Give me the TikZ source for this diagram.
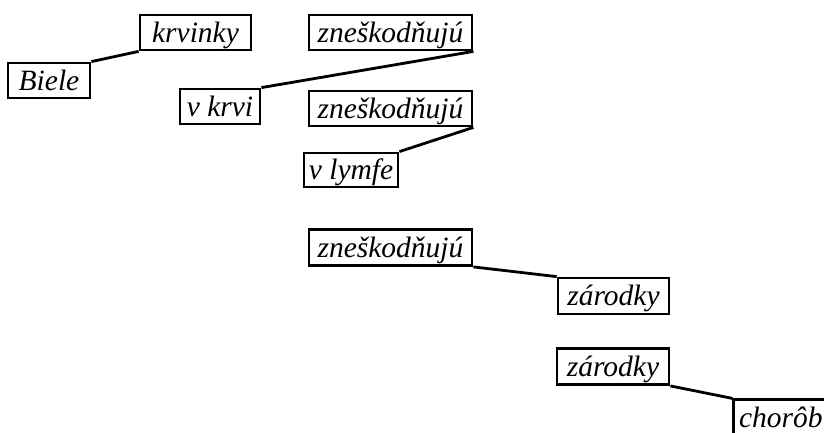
\documentclass[tikz,border=0pt]{standalone}
\usepackage{fontspec}
\setmainfont{Liberation Serif}
\begin{document}
\begin{tikzpicture}[x=1pt,y=-1pt,
  wbox/.style={draw, line width=2.8pt, rectangle, inner sep=0pt,
    text height=22pt, text depth=3pt,
    font=\fontsize{29.5}{32}\selectfont\itshape},
  conn/.style={line width=2.8pt}]
\useasboundingbox (0,0) rectangle (824,432);
\node[wbox, minimum width=82pt, minimum height=35pt] (biele) at (49,80.5) {Biele};
\node[wbox, minimum width=111pt, minimum height=35pt] (krvinky) at (195.5,32.5) {krvinky};
\node[wbox, minimum width=80pt, minimum height=35pt] (vkrvi) at (220,106.5) {v krvi};
\node[wbox, minimum width=163pt, minimum height=35pt] (zn1) at (390.5,32.5) {zneškodňujú};
\node[wbox, minimum width=163pt, minimum height=35pt] (zn2) at (390.5,108.5) {zneškodňujú};
\node[wbox, minimum width=94pt, minimum height=34pt] (vlymfe) at (351,170) {v lymfe};
\node[wbox, minimum width=163pt, minimum height=36pt] (zn3) at (390.5,247.5) {zneškodňujú};
\node[wbox, minimum width=111pt, minimum height=36pt] (zar1) at (613.5,296) {zárodky};
\node[wbox, minimum width=112pt, minimum height=36pt] (zar2) at (613,366.5) {zárodky};
\node[wbox, minimum width=94pt, minimum height=37pt, anchor=north west] (chorob) at (732.4,398.4) {chorôb};
\draw[conn] (biele.north east) -- (krvinky.south west);
\draw[conn] (vkrvi.north east) -- (zn1.south east);
\draw[conn] (vlymfe.north east) -- (zn2.south east);
\draw[conn] (zn3.south east) -- (zar1.north west);
\draw[conn] (zar2.south east) -- (chorob.north west);
\end{tikzpicture}
\end{document}
